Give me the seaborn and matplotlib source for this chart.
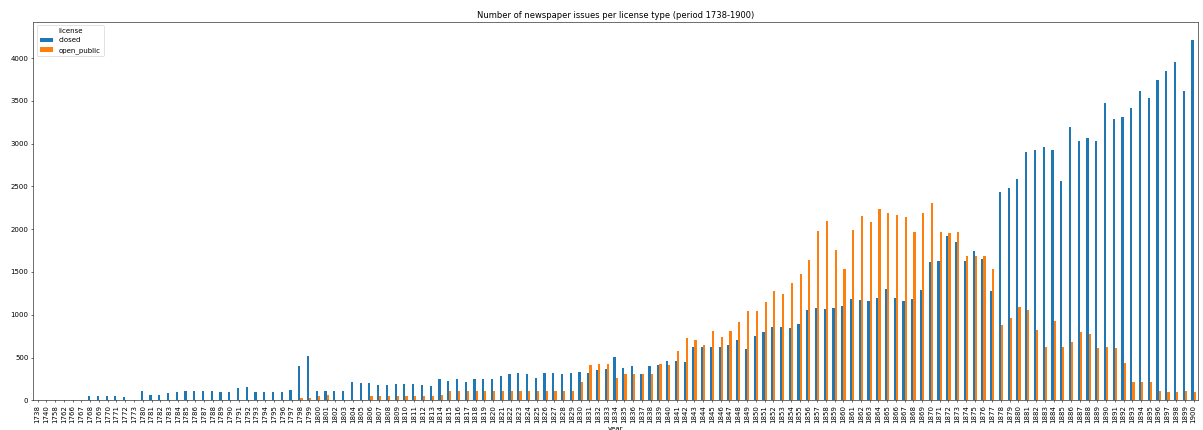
import matplotlib
matplotlib.use("Agg")
import matplotlib.pyplot as plt
import seaborn as sns
import pandas as pd

# ---- data ----
years = (["1738", "1740", "1758", "1762", "1766", "1767"]
         + [str(y) for y in range(1768, 1774)]
         + [str(y) for y in range(1780, 1901)])

closed_early = [1, 1, 1, 1, 1, 1, 50, 52, 52, 50, 38, 5]
closed_1780s = [110, 58, 65, 90, 102, 105, 105, 105, 105, 102,
                102, 142, 152, 102, 100, 102, 95, 120, 403, 522]
closed_1800s = [105, 105, 105, 105, 210, 198, 198, 184, 180, 188,
                190, 190, 180, 164, 254, 223, 254, 211, 254, 254,
                250, 286, 309, 315, 311, 260, 315, 315, 312, 323]
closed_1830s = [330, 318, 356, 368, 510, 376, 400, 313, 401, 413,
                465, 465, 452, 625, 625, 622, 622, 642, 703, 599]
closed_1850s = [755, 800, 862, 862, 845, 887, 1057, 1081, 1071, 1082,
                1101, 1190, 1176, 1164, 1195, 1300, 1199, 1164, 1190, 1288]
closed_1870s = [1616, 1631, 1925, 1847, 1629, 1745, 1651, 1273, 2432, 2482,
                2584, 2906, 2930, 2962, 2930, 2562, 3190, 3028, 3066, 3035]
closed_1890s = [3471, 3288, 3307, 3420, 3620, 3537, 3740, 3846, 3950, 3612, 4215]

open_early = [0] * 12
open_1780s = [0] * 18 + [27, 31]
open_1800s = [55, 63, 0, 0, 0, 0, 51, 51, 51, 51,
              51, 51, 51, 51, 63, 106, 106, 106, 106, 106,
              106, 106, 106, 106, 106, 106, 106, 106, 106, 106]
open_1830s = [215, 408, 425, 425, 258, 312, 312, 312, 311, 425,
              416, 578, 725, 703, 645, 812, 742, 812, 910, 1040]
open_1850s = [1040, 1148, 1277, 1246, 1374, 1476, 1643, 1975, 2100, 1757,
              1535, 1994, 2150, 2084, 2236, 2190, 2170, 2147, 1963, 2194]
open_1870s = [2310, 1970, 1958, 1965, 1682, 1682, 1690, 1534, 875, 963,
              1089, 1050, 823, 620, 932, 620, 683, 804, 776, 612]
open_1890s = [620, 608, 433, 210, 210, 210, 113, 102, 102, 110, 102]

closed = (closed_early + closed_1780s + closed_1800s + closed_1830s
          + closed_1850s + closed_1870s + closed_1890s)
open_public = (open_early + open_1780s + open_1800s + open_1830s
               + open_1850s + open_1870s + open_1890s)
assert len(years) == len(closed) == len(open_public)

licenses = ["closed", "open_public"]
colors = ["#1f77b4", "#ff7f0e"]
title = "Number of newspaper issues per license type (period 1738-1900)"

df = pd.DataFrame({
    "year": years * 2,
    "license": ["closed"] * len(years) + ["open_public"] * len(years),
    "count": closed + open_public,
})

# ---- plot ----
fig = plt.figure(figsize=(1203 / 50, 430 / 50), dpi=50)
ax = fig.add_axes([33.3 / 1203, (430 - 400.3) / 430,
                   (1198 - 33.3) / 1203, (400.3 - 21.7) / 430])

sns.barplot(data=df, x="year", y="count", hue="license", order=years,
            hue_order=licenses, palette=colors, width=0.5, saturation=1,
            errorbar=None, linewidth=0, ax=ax)

ax.set_xlim(-0.5, len(years) - 0.5)
ax.set_ylim(0, max(closed) * 1.05)
ax.tick_params(axis="x", labelrotation=90)
ax.set_ylabel("")
ax.set_xlabel("year")
ax.set_title(title)
ax.legend(title="license", loc="upper left")
for s in ax.spines.values():
    s.set_visible(True)

fig.savefig("out.png", dpi=50)
